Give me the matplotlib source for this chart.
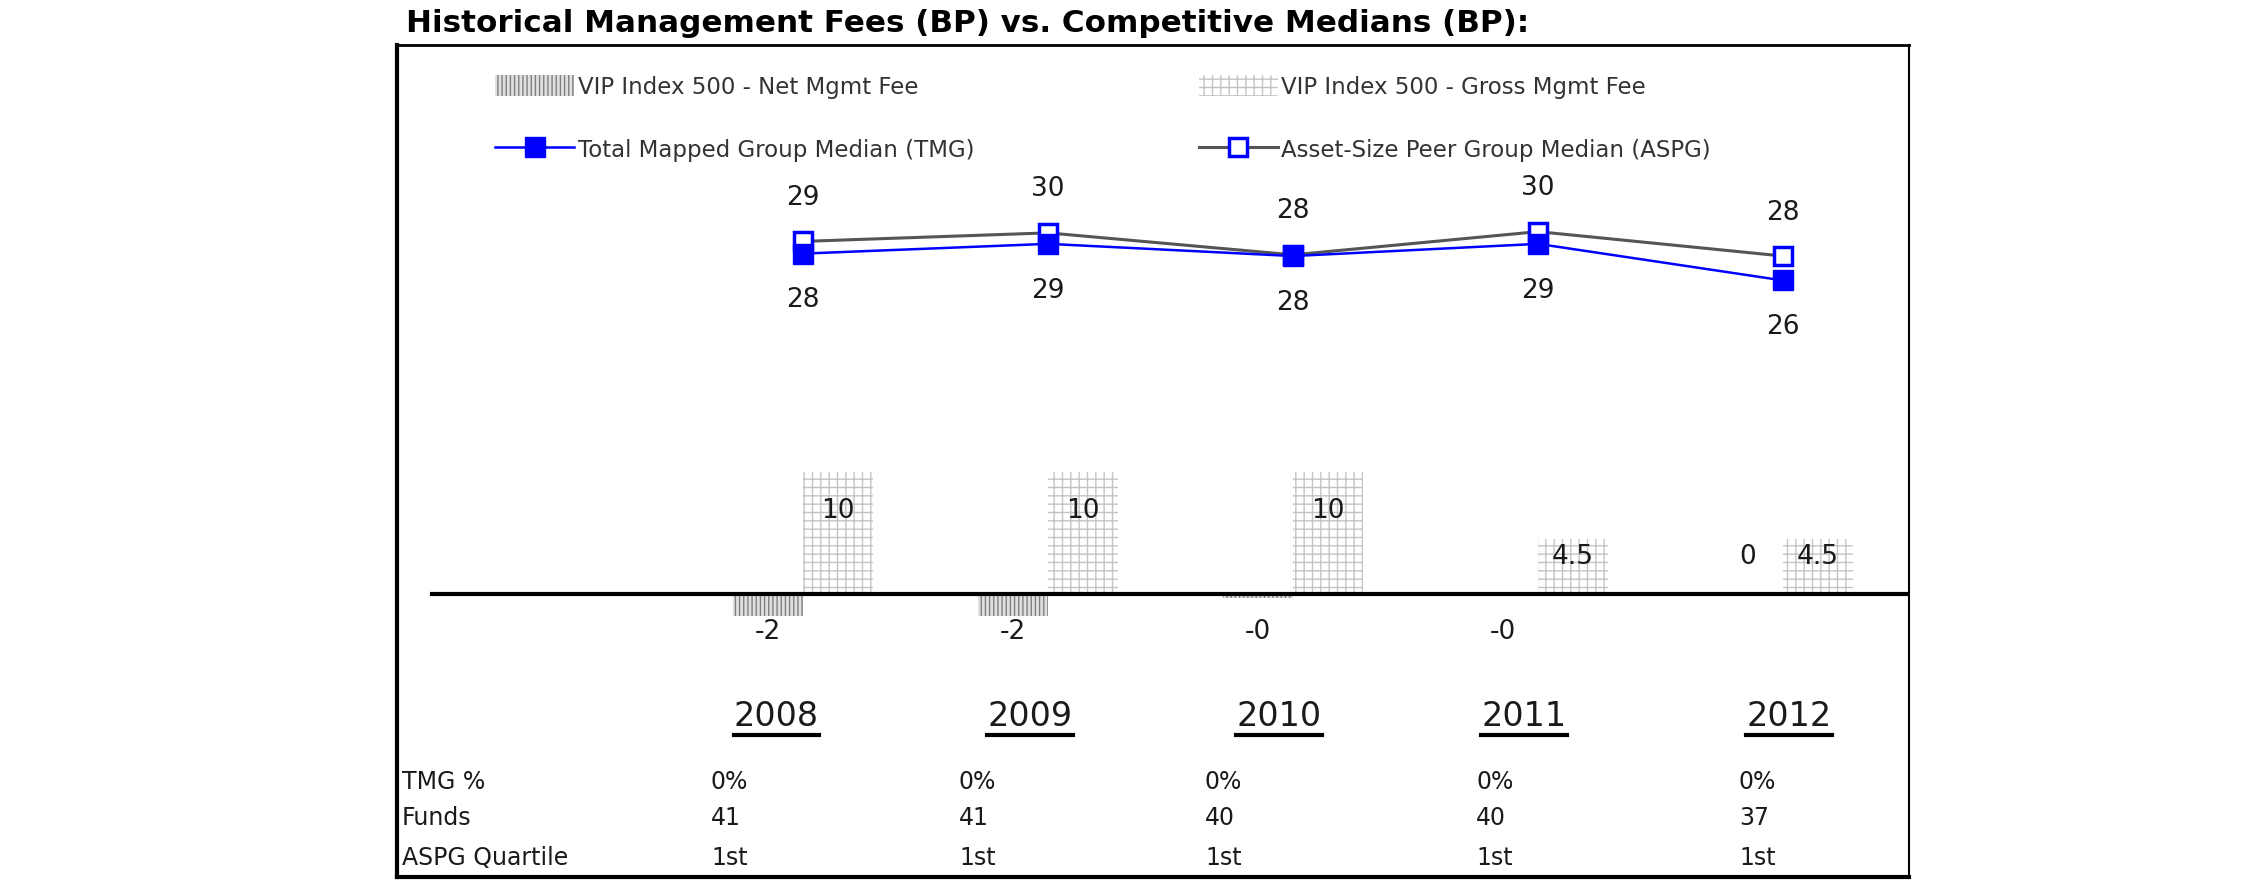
import matplotlib
matplotlib.use("Agg")
import matplotlib.pyplot as plt
from matplotlib.lines import Line2D

# ----------------------------------------------------------------------
# Data
# ----------------------------------------------------------------------
years = ["2008", "2009", "2010", "2011", "2012"]
net_fee = [-1.8, -1.8, -0.3, -0.1, 0.1]          # VIP Index 500 - Net Mgmt Fee
gross_fee = [10, 10, 10, 4.5, 4.5]               # VIP Index 500 - Gross Mgmt Fee
tmg_median = [27.9, 28.7, 27.7, 28.7, 25.7]      # Total Mapped Group Median
aspg_median = [28.9, 29.6, 27.8, 29.7, 27.7]     # Asset-Size Peer Group Median

row_labels = ["TMG %", "Funds", "ASPG Quartile"]
tmg_pct = ["0%", "0%", "0%", "0%", "0%"]
funds = ["41", "41", "40", "40", "37"]
aspg_quartile = ["1st", "1st", "1st", "1st", "1st"]

TITLE = "Historical Management Fees (BP) vs. Competitive Medians (BP):"

# ----------------------------------------------------------------------
# Layout (pixel positions of the 2250x895 canvas)
# ----------------------------------------------------------------------
W, H = 2250, 895
BLUE = "#0000ff"
GREY = "#555555"
INK = "#1a1a1a"


def fx(px):
    return px / W


def fy(py):
    return 1 - py / H


fig = plt.figure(figsize=(W / 100, H / 100), dpi=100)
ax = fig.add_axes([fx(397), fy(878), fx(1909) - fx(397), fy(46) - fy(878)])

x = list(range(len(years)))
bw = 0.286
xl = [i - bw / 2 for i in x]
xr = [i + bw / 2 for i in x]

net_bars = ax.bar(xl, net_fee, width=bw, facecolor="#e0e0e0",
                  edgecolor="#808080", hatch="||||", linewidth=0, zorder=2)
gross_bars = ax.bar(xr, gross_fee, width=bw, facecolor="white",
                    edgecolor="#c4c4c4", hatch="++", linewidth=0, zorder=2)

aspg_line, = ax.plot(x, aspg_median, color=GREY, lw=2.2, marker="s",
                     markersize=13, markerfacecolor="white",
                     markeredgecolor=BLUE, markeredgewidth=2.5, zorder=4)
tmg_line, = ax.plot(x, tmg_median, color=BLUE, lw=1.8, marker="s",
                    markersize=14, markerfacecolor=BLUE,
                    markeredgecolor=BLUE, zorder=5)

ax.axhline(0, xmin=(432 - 397) / 1512, xmax=1, color="black", lw=3, zorder=3)

ax.set_xlim(-1.657, 4.514)
ax.set_ylim(-23.2, 45.0)
ax.set_xticks([])
ax.set_yticks([])
for side, lw in [("left", 3), ("top", 2), ("right", 1.5), ("bottom", 3)]:
    ax.spines[side].set_linewidth(lw)

# --- value labels ---
lab_fs = 19
for i in x:
    ax.annotate(f"{aspg_median[i]:.0f}", (x[i], aspg_median[i]),
                xytext=(0, 32), textcoords="offset points",
                ha="center", va="center", fontsize=lab_fs, color=INK)
    ax.annotate(f"{tmg_median[i]:.0f}", (x[i], tmg_median[i]),
                xytext=(0, -33), textcoords="offset points",
                ha="center", va="center", fontsize=lab_fs, color=INK)
    ax.text(xr[i], gross_fee[i] * 0.69, f"{gross_fee[i]:g}",
            ha="center", va="center", fontsize=lab_fs, color=INK, zorder=6)
    off = 27 if net_fee[i] > 0 else -27
    ax.annotate(f"{net_fee[i]:.0f}", (xl[i], 0), xytext=(0, off),
                textcoords="offset points", ha="center", va="center",
                fontsize=lab_fs, color=INK)

# --- legend ---
leg = ax.legend([net_bars, tmg_line, gross_bars, aspg_line],
                ["VIP Index 500 - Net Mgmt Fee",
                 "Total Mapped Group Median (TMG)",
                 "VIP Index 500 - Gross Mgmt Fee",
                 "Asset-Size Peer Group Median (ASPG)"],
                ncol=2, frameon=False, fontsize=16.5, loc="upper left",
                bbox_to_anchor=(fx(495), fy(76)),
                bbox_transform=fig.transFigure, borderpad=0,
                borderaxespad=0, handlelength=3.45, handleheight=1.0,
                handletextpad=0.15, labelspacing=1.75, columnspacing=9.8)
for t in leg.get_texts():
    t.set_color("#333333")

# --- title ---
fig.text(fx(406), fy(23), TITLE, fontsize=22.3, fontweight="bold",
         ha="left", va="center")

# --- table under the chart ---
year_cx = [776, 1030, 1279, 1524, 1789]
col_x = [711, 959, 1205, 1476, 1739]
row_y = [782, 818, 858]
tbl_fs = 17

year_texts = []
for cx, yr in zip(year_cx, years):
    t = fig.text(fx(cx), fy(717), yr, fontsize=24, ha="center", va="center",
                 color=INK)
    year_texts.append(t)

for ry, lab in zip(row_y, row_labels):
    fig.text(fx(402), fy(ry), lab, fontsize=tbl_fs, ha="left", va="center",
             color=INK)
for rows, ry in zip([tmg_pct, funds, aspg_quartile], row_y):
    for cx, val in zip(col_x, rows):
        fig.text(fx(cx), fy(ry), val, fontsize=tbl_fs, ha="left",
                 va="center", color=INK)

# underline the year headings using their rendered extents
fig.canvas.draw()
for t in year_texts:
    bb = t.get_window_extent()
    fig.add_artist(Line2D([bb.x0 / W, bb.x1 / W], [fy(736), fy(736)],
                          transform=fig.transFigure, color="black", lw=3))

fig.savefig("out.png", dpi=100)
plt.close(fig)
